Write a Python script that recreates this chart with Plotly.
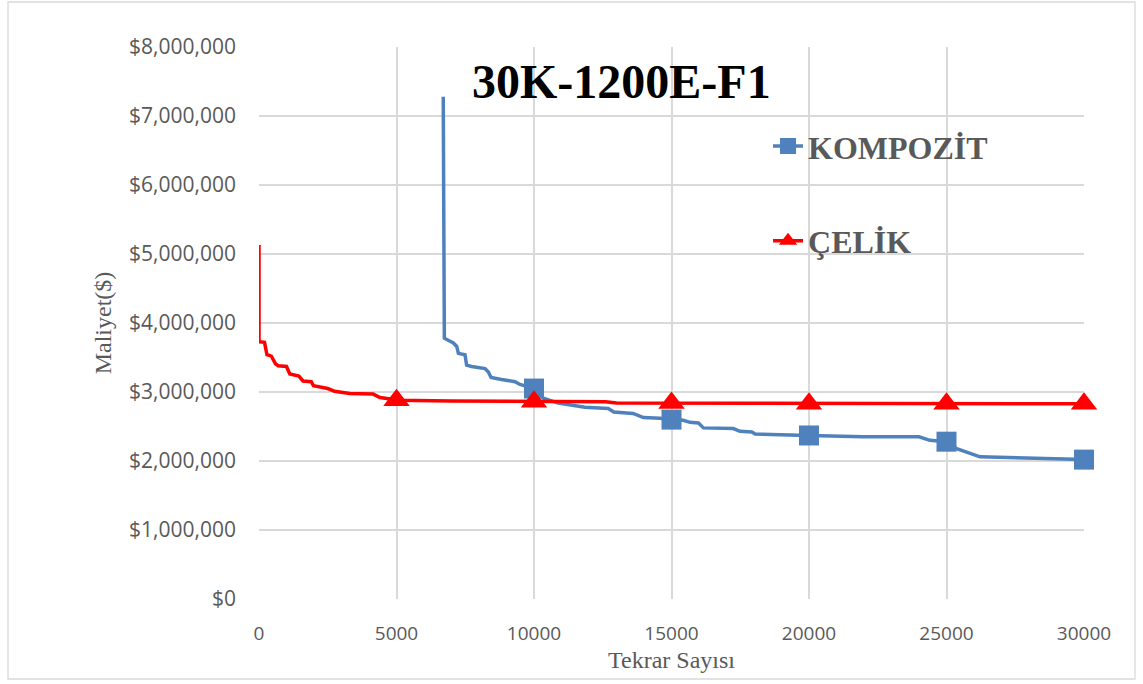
import plotly.graph_objects as go

# ---- data ----
komp_x = [6700, 6720, 6740, 6880, 7070, 7190, 7250, 7490, 7550, 7730, 8220, 8340, 8440, 8820,
          9310, 9490, 10000, 10340, 10880, 11850, 12700, 12900, 13600, 13980, 14580, 15000,
          15430, 15670, 15980, 16160, 17250, 17490, 17920, 18040, 18700, 18950, 20000, 20900,
          21500, 21980, 24000, 24400, 25000, 25370, 26220, 27550, 28760, 30000]
komp_y = [7.28, 3.80, 3.78, 3.75, 3.71, 3.66, 3.56, 3.54, 3.39, 3.37, 3.34, 3.29, 3.21, 3.18,
          3.15, 3.11, 3.05, 2.91, 2.84, 2.78, 2.76, 2.71, 2.69, 2.63, 2.62, 2.60,
          2.59, 2.56, 2.55, 2.48, 2.47, 2.43, 2.42, 2.39, 2.39, 2.38, 2.37, 2.36,
          2.36, 2.35, 2.35, 2.30, 2.28, 2.18, 2.06, 2.05, 2.03, 2.02]

celik_x = [0, 0, 200, 260, 290, 450, 521, 600, 700, 1000, 1120, 1250, 1450, 1600, 1900, 1980,
           2300, 2500, 2750, 3300, 4150, 4400, 4900, 5000, 7000, 10000, 12600, 13000, 15000,
           18800, 19000, 25000, 30000]
celik_y = [5.13, 3.73, 3.72, 3.60, 3.54, 3.52, 3.47, 3.41, 3.38, 3.37, 3.26, 3.25, 3.23, 3.16,
           3.15, 3.09, 3.07, 3.05, 3.01, 2.98, 2.97, 2.92, 2.89, 2.88, 2.87, 2.86, 2.86, 2.84,
           2.84, 2.84, 2.83, 2.83, 2.83]

komp_mark_x = [10000, 15000, 20000, 25000, 30000]
komp_mark_y = [3.05, 2.60, 2.37, 2.28, 2.02]
celik_mark_x = [5000, 10000, 15000, 20000, 25000, 30000]
celik_mark_y = [2.88, 2.86, 2.84, 2.83, 2.83, 2.83]

x_ticks = [0, 5000, 10000, 15000, 20000, 25000, 30000]
y_ticks = [0, 1, 2, 3, 4, 5, 6, 7, 8]
y_tick_text = ["$0", "$1,000,000", "$2,000,000", "$3,000,000", "$4,000,000",
               "$5,000,000", "$6,000,000", "$7,000,000", "$8,000,000"]

title_text = "30K-1200E-F1"
series_names = ["KOMPOZİT", "ÇELİK"]

BLUE = "#4F81BD"
RED = "#FF0000"
GRAY_TXT = "#595959"
GRID = "#D9D9D9"

M = 1_000_000
fig = go.Figure()

fig.add_trace(go.Scatter(x=komp_x, y=[v * M for v in komp_y], mode="lines",
                         line=dict(color=BLUE, width=3.5), showlegend=False, hoverinfo="skip"))
fig.add_trace(go.Scatter(x=komp_mark_x, y=[v * M for v in komp_mark_y], mode="markers",
                         marker=dict(symbol="square", size=20, color=BLUE), showlegend=False,
                         cliponaxis=False))
fig.add_trace(go.Scatter(x=celik_x, y=[v * M for v in celik_y], mode="lines",
                         line=dict(color=RED, width=3.5), showlegend=False, hoverinfo="skip"))
fig.add_trace(go.Scatter(x=celik_mark_x, y=[v * M for v in celik_mark_y], mode="markers",
                         marker=dict(symbol="triangle-up", size=23, color=RED), showlegend=False,
                         cliponaxis=False))

# legend-only entries
fig.add_trace(go.Scatter(x=[None], y=[None], mode="lines+markers", name=series_names[0],
                         legendgroup="a", line=dict(color=BLUE, width=3.5),
                         marker=dict(symbol="square", size=16, color=BLUE)))
fig.add_trace(go.Scatter(x=[None], y=[None], mode="lines+markers", name=series_names[1],
                         legendgroup="b", line=dict(color=RED, width=3.5),
                         marker=dict(symbol="triangle-up", size=20, color=RED)))

fig.update_layout(
    width=1143, height=684,
    margin=dict(l=259, r=59, t=47, b=85),
    paper_bgcolor="white", plot_bgcolor="white",
    font=dict(family="Open Sans", color=GRAY_TXT, size=19),
    legend=dict(x=0.617, y=0.87, xanchor="left", yanchor="top",
                font=dict(family="Liberation Serif", size=32, color=GRAY_TXT, weight="bold"),
                tracegroupgap=50, bgcolor="rgba(0,0,0,0)", itemwidth=30),
    xaxis=dict(range=[0, 30000], tickmode="array", tickvals=x_ticks,
               ticktext=[str(t) for t in x_ticks],
               showgrid=True, gridcolor=GRID, gridwidth=1.5, zeroline=False,
               showline=False, ticks="", ticklabelstandoff=21,
               tickfont=dict(family="Open Sans", size=19, color=GRAY_TXT),
               title=dict(text="Tekrar Sayısı", standoff=6,
                          font=dict(family="Liberation Serif", size=24, color=GRAY_TXT))),
    yaxis=dict(range=[0, 8 * M], tickmode="array", tickvals=[v * M for v in y_ticks],
               ticktext=y_tick_text,
               showgrid=True, gridcolor=GRID, gridwidth=1.5, zeroline=False,
               showline=False, ticks="", ticklabelstandoff=22,
               tickfont=dict(family="Open Sans", size=21, color=GRAY_TXT),
               title=dict(text="Maliyet($)", standoff=10,
                          font=dict(family="Liberation Serif", size=24, color=GRAY_TXT))),
    shapes=[dict(type="rect", xref="paper", yref="paper",
                 x0=-0.3042, x1=1.0618, y0=-0.1449, y1=1.0815,
                 line=dict(color=GRID, width=1.3), fillcolor="rgba(0,0,0,0)", layer="below")],
    annotations=[dict(text=title_text, xref="paper", yref="paper", x=0.4388, y=0.9366,
                      xanchor="center", yanchor="middle", showarrow=False,
                      font=dict(family="Liberation Serif", size=48, color="black", weight="bold"))],
)

fig.write_html("out.html")
